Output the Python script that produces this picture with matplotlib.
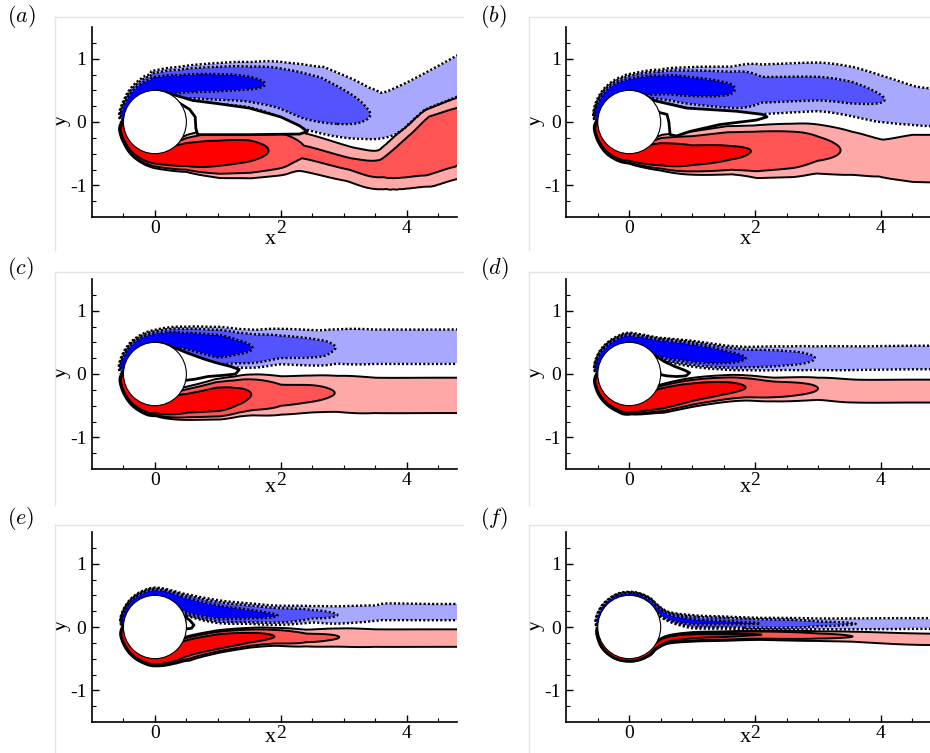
import numpy as np
import matplotlib
matplotlib.use('Agg')
import matplotlib.pyplot as plt
from matplotlib.patches import Circle, Polygon
from matplotlib.lines import Line2D

plt.rcParams['font.family'] = ['Liberation Serif', 'DejaVu Serif']
plt.rcParams['mathtext.fontset'] = 'cm'
plt.rcParams['axes.unicode_minus'] = False

# ---------------- data ----------------
PANEL_LABELS = ['(a)', '(b)', '(c)', '(d)', '(e)', '(f)']
X_TICKS = [0, 2, 4]
Y_TICKS = [-1, 0, 1]
X_RANGE = (-1.0, 4.8)
Y_RANGE = (-1.5, 1.5)
CYL_RADIUS = 0.5
LEVELS = [1.0, 1.6, 3.0]                       # |vorticity| contour levels
NEG_COLORS = ['#0000ff', '#5454ff', '#a8a8ff']  # <-3, -3..-1.6, -1.6..-1
POS_COLORS = ['#ffa8a8', '#ff5454', '#ff0000']  # 1..1.6, 1.6..3, >3

# shear layers: rows of (x, y, peak vorticity, width outer side, width inner side)
UP_A = [(-0.500, 0.009, 2.0, 0.05, 0.03), (-0.483, 0.129, 8.0, 0.06, 0.03),
        (-0.410, 0.287, 8.0, 0.07, 0.03), (-0.287, 0.410, 8.0, 0.11, 0.03),
        (-0.129, 0.483, 8.0, 0.16, 0.03), (0.017, 0.500, 8.0, 0.22, 0.05),
        (0.40, 0.60, 4.5, 0.22, 0.22), (1.00, 0.63, 3.8, 0.26, 0.30),
        (1.50, 0.62, 3.3, 0.30, 0.35), (2.00, 0.55, 2.7, 0.40, 0.45),
        (2.50, 0.36, 2.4, 0.58, 0.52), (2.95, 0.22, 2.0, 0.60, 0.55),
        (3.35, 0.12, 1.65, 0.60, 0.55), (3.70, 0.13, 1.4, 0.60, 0.60),
        (4.15, 0.36, 1.4, 0.52, 0.52), (4.75, 0.69, 1.4, 0.50, 0.50),
        (5.30, 1.00, 1.4, 0.50, 0.50)]
LO_A = [(-0.500, -0.009, 2.0, 0.05, 0.03), (-0.483, -0.129, 8.0, 0.06, 0.03),
        (-0.410, -0.287, 8.0, 0.07, 0.03), (-0.287, -0.410, 8.0, 0.10, 0.03),
        (-0.129, -0.483, 8.0, 0.13, 0.03), (0.017, -0.500, 8.0, 0.16, 0.05),
        (0.50, -0.54, 6.0, 0.185, 0.25), (1.00, -0.50, 4.3, 0.32, 0.34),
        (1.50, -0.46, 3.6, 0.38, 0.40), (1.95, -0.45, 2.7, 0.40, 0.40),
        (2.35, -0.47, 1.7, 0.42, 0.40), (3.10, -0.66, 1.7, 0.38, 0.36),
        (3.60, -0.72, 1.8, 0.45, 0.36), (4.15, -0.50, 2.3, 0.63, 0.50),
        (4.55, -0.28, 2.5, 0.72, 0.62), (4.95, -0.08, 2.3, 0.65, 0.55),
        (5.40, 0.05, 2.0, 0.60, 0.55)]
BUB_A = [(0.05, 0.50), (0.30, 0.43), (0.60, 0.34), (1.00, 0.29), (1.50, 0.22),
         (2.00, 0.08), (2.30, -0.06), (2.42, -0.15), (2.30, -0.19), (1.50, -0.20),
         (0.68, -0.20), (0.65, -0.10), (0.64, 0.08), (0.55, 0.20), (0.42, 0.28)]

UP_B = [(-0.500, 0.009, 2.0, 0.05, 0.03), (-0.483, 0.129, 10, 0.06, 0.03),
        (-0.410, 0.287, 10, 0.08, 0.03), (-0.287, 0.410, 10, 0.11, 0.03),
        (-0.129, 0.483, 10, 0.14, 0.03), (0.017, 0.500, 10, 0.17, 0.05),
        (0.50, 0.61, 5.0, 0.17, 0.24), (1.00, 0.57, 4.0, 0.255, 0.30),
        (1.60, 0.52, 3.2, 0.33, 0.35), (2.10, 0.50, 1.9, 0.51, 0.47),
        (3.00, 0.50, 1.85, 0.56, 0.42), (3.50, 0.45, 1.8, 0.55, 0.45),
        (4.00, 0.36, 1.62, 0.52, 0.52), (4.50, 0.26, 1.45, 0.50, 0.50),
        (5.00, 0.22, 1.4, 0.50, 0.50), (5.50, 0.22, 1.4, 0.50, 0.50)]
LO_B = [(-0.500, -0.009, 2.0, 0.05, 0.03), (-0.483, -0.129, 10, 0.05, 0.03),
        (-0.410, -0.287, 10, 0.06, 0.03), (-0.287, -0.410, 10, 0.08, 0.03),
        (-0.129, -0.483, 10, 0.095, 0.03), (0.017, -0.500, 10, 0.105, 0.05),
        (0.50, -0.55, 6.0, 0.16, 0.26), (1.00, -0.55, 4.0, 0.24, 0.34),
        (1.60, -0.50, 3.3, 0.30, 0.40), (2.00, -0.45, 2.95, 0.42, 0.38),
        (2.60, -0.42, 2.4, 0.48, 0.42), (3.00, -0.42, 1.86, 0.50, 0.48),
        (3.50, -0.47, 1.5, 0.58, 0.50), (4.00, -0.57, 1.45, 0.48, 0.48),
        (4.50, -0.58, 1.45, 0.60, 0.62), (5.00, -0.58, 1.45, 0.62, 0.62),
        (5.50, -0.58, 1.45, 0.62, 0.62)]
BUB_B = [(0.05, 0.50), (0.43, 0.33), (0.91, 0.22), (1.70, 0.17), (2.12, 0.12),
         (2.19, 0.08), (2.02, 0.03), (1.44, -0.04), (0.96, -0.15), (0.75, -0.22),
         (0.65, -0.20), (0.63, 0.00), (0.60, 0.12), (0.48, 0.15)]

UP_C = [(-0.500, 0.009, 2.0, 0.05, 0.03), (-0.483, 0.129, 10, 0.06, 0.03),
        (-0.410, 0.287, 10, 0.07, 0.03), (-0.287, 0.410, 10, 0.09, 0.03),
        (-0.129, 0.483, 10, 0.11, 0.03), (0.017, 0.500, 10, 0.13, 0.05),
        (0.45, 0.53, 5.0, 0.17, 0.18), (1.00, 0.46, 4.8, 0.23, 0.29),
        (1.30, 0.43, 3.6, 0.25, 0.29), (1.60, 0.41, 2.9, 0.28, 0.30),
        (2.00, 0.42, 2.2, 0.33, 0.30), (2.60, 0.40, 1.85, 0.37, 0.34),
        (2.90, 0.42, 1.58, 0.42, 0.38), (3.50, 0.43, 1.3, 0.53, 0.53),
        (4.50, 0.43, 1.3, 0.53, 0.53), (5.50, 0.44, 1.3, 0.53, 0.53)]
LO_C = [(-0.500, -0.009, 2.0, 0.05, 0.03), (-0.483, -0.129, 10, 0.05, 0.03),
        (-0.410, -0.287, 10, 0.06, 0.03), (-0.287, -0.410, 10, 0.08, 0.03),
        (-0.129, -0.483, 10, 0.10, 0.03), (0.017, -0.500, 10, 0.11, 0.05),
        (0.50, -0.46, 5.0, 0.21, 0.20), (1.00, -0.40, 5.2, 0.25, 0.25),
        (1.30, -0.35, 3.8, 0.28, 0.27), (1.55, -0.32, 2.95, 0.32, 0.30),
        (2.00, -0.33, 1.96, 0.38, 0.36), (2.50, -0.30, 1.8, 0.40, 0.36),
        (2.90, -0.30, 1.58, 0.44, 0.40), (3.50, -0.33, 1.3, 0.56, 0.53),
        (4.50, -0.33, 1.3, 0.56, 0.53), (5.50, -0.33, 1.3, 0.56, 0.53)]
BUB_C = [(0.04, 0.50), (0.30, 0.42), (0.52, 0.33), (0.80, 0.23), (1.00, 0.17),
         (1.20, 0.12), (1.34, 0.07), (1.28, 0.00), (1.10, -0.02), (0.84, -0.04),
         (0.65, -0.08), (0.49, -0.10)]

UP_D = [(-0.500, 0.009, 2.0, 0.04, 0.03), (-0.483, 0.129, 10, 0.05, 0.03),
        (-0.410, 0.287, 10, 0.06, 0.03), (-0.287, 0.410, 10, 0.07, 0.03),
        (-0.129, 0.483, 10, 0.085, 0.03), (0.017, 0.500, 10, 0.10, 0.04),
        (0.45, 0.44, 12, 0.085, 0.14), (1.00, 0.35, 8.0, 0.12, 0.16),
        (1.50, 0.28, 4.5, 0.14, 0.17), (1.85, 0.25, 3.0, 0.17, 0.18),
        (2.50, 0.25, 2.1, 0.215, 0.215), (2.95, 0.25, 1.6, 0.27, 0.27),
        (3.60, 0.25, 1.35, 0.34, 0.34), (4.50, 0.26, 1.35, 0.34, 0.34),
        (5.50, 0.26, 1.35, 0.34, 0.34)]
LO_D = [(-0.500, -0.009, 2.0, 0.04, 0.03), (-0.483, -0.129, 10, 0.05, 0.03),
        (-0.410, -0.287, 10, 0.06, 0.03), (-0.287, -0.410, 10, 0.07, 0.03),
        (-0.129, -0.483, 10, 0.085, 0.03), (0.017, -0.500, 10, 0.092, 0.04),
        (0.50, -0.38, 9.0, 0.16, 0.14), (1.00, -0.28, 5.6, 0.18, 0.165),
        (1.50, -0.22, 4.0, 0.19, 0.17), (1.85, -0.21, 3.0, 0.20, 0.18),
        (2.30, -0.24, 2.3, 0.21, 0.20), (3.00, -0.23, 1.6, 0.26, 0.25),
        (3.60, -0.27, 1.35, 0.33, 0.33), (4.50, -0.27, 1.35, 0.33, 0.33),
        (5.50, -0.27, 1.35, 0.33, 0.33)]
BUB_D = [(0.40, 0.30), (0.55, 0.20), (0.72, 0.12), (0.88, 0.06), (0.96, 0.02),
         (0.90, -0.03), (0.75, -0.04), (0.60, -0.03), (0.50, -0.01)]

UP_E = [(-0.500, 0.009, 2.0, 0.035, 0.03), (-0.483, 0.129, 10, 0.045, 0.03),
        (-0.410, 0.287, 10, 0.05, 0.03), (-0.287, 0.410, 10, 0.06, 0.03),
        (-0.129, 0.483, 10, 0.07, 0.03), (0.017, 0.500, 10, 0.08, 0.04),
        (0.25, 0.44, 10, 0.09, 0.04), (0.50, 0.33, 8.0, 0.13, 0.10),
        (1.00, 0.23, 5.2, 0.15, 0.13), (1.50, 0.20, 3.8, 0.15, 0.13),
        (1.95, 0.18, 3.0, 0.15, 0.14), (2.50, 0.20, 1.9, 0.16, 0.16),
        (2.90, 0.19, 1.6, 0.20, 0.20), (3.50, 0.22, 1.3, 0.235, 0.235),
        (3.70, 0.24, 1.3, 0.26, 0.26), (4.50, 0.235, 1.3, 0.25, 0.25),
        (5.50, 0.24, 1.3, 0.25, 0.25)]
LO_E = [(-0.500, -0.009, 2.0, 0.035, 0.03), (-0.483, -0.129, 10, 0.045, 0.03),
        (-0.410, -0.287, 10, 0.05, 0.03), (-0.287, -0.410, 10, 0.06, 0.03),
        (-0.129, -0.483, 10, 0.07, 0.03), (0.017, -0.500, 10, 0.08, 0.04),
        (0.25, -0.44, 10, 0.10, 0.04), (0.50, -0.32, 6.4, 0.16, 0.12),
        (1.00, -0.23, 6.4, 0.13, 0.13), (1.50, -0.17, 4.2, 0.13, 0.13),
        (1.90, -0.15, 3.0, 0.14, 0.13), (2.40, -0.17, 1.9, 0.17, 0.16),
        (2.93, -0.16, 1.6, 0.22, 0.20), (3.50, -0.175, 1.3, 0.27, 0.27),
        (4.50, -0.175, 1.3, 0.27, 0.27), (5.50, -0.175, 1.3, 0.27, 0.27)]
BUB_E = [(0.47, 0.17), (0.56, 0.10), (0.62, 0.03), (0.58, -0.02), (0.49, -0.03)]

UP_F = [(-0.500, 0.009, 2.0, 0.03, 0.02), (-0.483, 0.129, 8, 0.035, 0.02),
        (-0.410, 0.287, 8, 0.035, 0.02), (-0.287, 0.410, 8, 0.035, 0.02),
        (-0.129, 0.483, 8, 0.04, 0.02), (0.087, 0.492, 8, 0.04, 0.02),
        (0.287, 0.410, 8, 0.045, 0.02), (0.40, 0.30, 7, 0.05, 0.02),
        (0.60, 0.16, 5, 0.065, 0.04), (1.00, 0.085, 3.7, 0.09, 0.09),
        (1.50, 0.07, 3.3, 0.088, 0.088), (2.10, 0.055, 3.0, 0.085, 0.085),
        (3.00, 0.05, 1.8, 0.11, 0.11), (3.60, 0.05, 1.6, 0.125, 0.125),
        (4.50, 0.055, 1.4, 0.146, 0.146), (5.50, 0.055, 1.4, 0.146, 0.146)]
LO_F = [(-0.500, -0.009, 1.5, 0.03, 0.02), (-0.483, -0.129, 4, 0.03, 0.02),
        (-0.410, -0.287, 7, 0.035, 0.02), (-0.287, -0.410, 8, 0.035, 0.02),
        (-0.129, -0.483, 8, 0.035, 0.02), (0.087, -0.492, 8, 0.035, 0.02),
        (0.287, -0.410, 8, 0.04, 0.02), (0.40, -0.30, 7, 0.045, 0.02),
        (0.60, -0.19, 5, 0.06, 0.04), (1.00, -0.14, 3.8, 0.08, 0.05),
        (1.50, -0.13, 3.4, 0.08, 0.055), (2.10, -0.12, 3.0, 0.08, 0.06),
        (3.00, -0.14, 1.9, 0.10, 0.09), (3.55, -0.15, 1.6, 0.12, 0.11),
        (4.50, -0.19, 1.4, 0.155, 0.155), (5.50, -0.20, 1.4, 0.155, 0.155)]
BUB_F = []

UPPER = [UP_A, UP_B, UP_C, UP_D, UP_E, UP_F]
LOWER = [LO_A, LO_B, LO_C, LO_D, LO_E, LO_F]
BUBBLES = [BUB_A, BUB_B, BUB_C, BUB_D, BUB_E, BUB_F]


# ---------------- field construction ----------------
def densify(rows, n=8):
    P = np.asarray(rows, float)
    xy, at = P[:, :2], P[:, 2:]
    ext = np.vstack([2 * xy[0] - xy[1], xy, 2 * xy[-1] - xy[-2]])
    t = np.linspace(0, 1, n, endpoint=False)[:, None]
    pts, ats = [], []
    for i in range(len(P) - 1):
        p0, p1, p2, p3 = ext[i], ext[i + 1], ext[i + 2], ext[i + 3]
        seg = 0.5 * (2 * p1 + (-p0 + p2) * t + (2 * p0 - 5 * p1 + 4 * p2 - p3) * t ** 2
                     + (-p0 + 3 * p1 - 3 * p2 + p3) * t ** 3)
        pts.append(seg)
        ats.append(at[i] + (at[i + 1] - at[i]) * t)
    pts.append(xy[-1:])
    ats.append(at[-1:])
    return np.vstack(pts), np.vstack(ats)


def layer(X, Y, rows, outer_left):
    pts, ats = densify(rows)
    best = np.full(X.shape, np.inf)
    side = np.zeros(X.shape, bool)
    idx = np.zeros(X.shape, int)
    tt = np.zeros(X.shape)
    for i in range(len(pts) - 1):
        ax_, ay_ = pts[i]
        dx, dy = pts[i + 1] - pts[i]
        L2 = dx * dx + dy * dy
        if L2 < 1e-12:
            continue
        rx = X - ax_
        ry = Y - ay_
        t = np.clip((rx * dx + ry * dy) / L2, 0, 1)
        d2 = (rx - t * dx) ** 2 + (ry - t * dy) ** 2
        m = d2 < best
        best = np.where(m, d2, best)
        side = np.where(m, (dx * ry - dy * rx) > 0, side)
        idx = np.where(m, i, idx)
        tt = np.where(m, t, tt)
    a = ats[idx] * (1 - tt[..., None]) + ats[idx + 1] * tt[..., None]
    amp, wo, wi = a[..., 0], a[..., 1], a[..., 2]
    outer = side if outer_left else ~side
    w = np.where(outer, wo, wi)
    return amp * np.exp(-best / w ** 2)


xs = np.arange(-1.05, 5.05, 0.01)
ys = np.arange(-1.55, 1.56, 0.01)
X, Y = np.meshgrid(xs, ys)

# ---------------- layout ----------------
W, H = 930, 753
fig = plt.figure(figsize=(W / 100, H / 100), dpi=100)

col_left_px = [92, 566.3]
row_bottom_px = [217, 469, 722]
xlabel_drop_px = [22, 18, 16]
ax_w_px, ax_h_px = 365, 190
label_pos_px = [(7, 16), (480, 16), (7, 268), (480, 268), (7, 519), (480, 519)]
frame_left_px = [55, 529]
frame_top_px = [17, 272, 525]
frame_bottom_px = [250, 505, 753]

big = 100.0
levels = [-big, -LEVELS[2], -LEVELS[1], -LEVELS[0], LEVELS[0], LEVELS[1], LEVELS[2], big]
fill_colors = NEG_COLORS + ['#ffffff'] + POS_COLORS

for k in range(6):
    r, c = divmod(k, 2)
    fx = frame_left_px[c]
    fig.add_artist(Line2D([fx / W, fx / W], [1 - frame_top_px[r] / H, 1 - frame_bottom_px[r] / H],
                          color='#e4e4e4', lw=1.0))
    fig.add_artist(Line2D([fx / W, (463 if c == 0 else 930) / W],
                          [1 - frame_top_px[r] / H, 1 - frame_top_px[r] / H],
                          color='#e4e4e4', lw=1.0))

    ax = fig.add_axes([col_left_px[c] / W, 1 - row_bottom_px[r] / H, ax_w_px / W, ax_h_px / H])
    lo = layer(X, Y, LOWER[k], outer_left=False)
    up = layer(X, Y, UPPER[k], outer_left=True)
    F = np.where(lo >= up, lo, -up)

    ax.contourf(X, Y, F, levels=levels, colors=fill_colors, zorder=1)
    ax.contour(X, Y, F, levels=[-LEVELS[2], -LEVELS[1], -LEVELS[0]], colors='k',
               linewidths=1.7, linestyles=[(0, (0.9, 0.9))], zorder=2)
    ax.contour(X, Y, F, levels=LEVELS, colors='k', linewidths=1.4,
               linestyles='solid', zorder=2)
    if len(BUBBLES[k]) > 2:
        ax.add_patch(Polygon(BUBBLES[k], closed=True, fc='white', ec='black', lw=2.0,
                             joinstyle='round', zorder=3))
    ax.add_patch(Circle((0, 0), CYL_RADIUS, fc='white', ec='black', lw=0.8, zorder=4))

    ax.set_xlim(*X_RANGE)
    ax.set_ylim(*Y_RANGE)
    ax.set_aspect('auto')
    for s in ['top', 'right']:
        ax.spines[s].set_visible(False)
    for s in ['left', 'bottom']:
        ax.spines[s].set_linewidth(1.2)
        ax.spines[s].set_zorder(5)
    ax.set_xticks(X_TICKS)
    ax.set_yticks(Y_TICKS)
    ax.set_xticks(np.arange(-0.5, 4.8, 0.5), minor=True)
    ax.set_yticks(np.arange(-1.25, 1.5, 0.25), minor=True)
    ax.set_xticklabels([str(v) for v in X_TICKS])
    ax.set_yticklabels([str(v) for v in Y_TICKS])
    ax.tick_params(which='major', direction='in', length=5, width=1.0, labelsize=14)
    ax.tick_params(axis='y', which='major', pad=4)
    ax.tick_params(axis='x', which='major', pad=2)
    ax.tick_params(which='minor', direction='in', length=3, width=0.8)
    ax.text(0.49, -xlabel_drop_px[r] / ax_h_px, 'x', transform=ax.transAxes,
            ha='center', va='center', fontsize=16)
    ax.text(-0.085, 0.51, 'y', transform=ax.transAxes, ha='center', va='center',
            fontsize=16, rotation=90)

    lx, ly = label_pos_px[k]
    fig.text(lx / W, 1 - ly / H, '$' + PANEL_LABELS[k] + '$', fontsize=16,
             ha='left', va='center')

fig.savefig('out.png', dpi=100)
